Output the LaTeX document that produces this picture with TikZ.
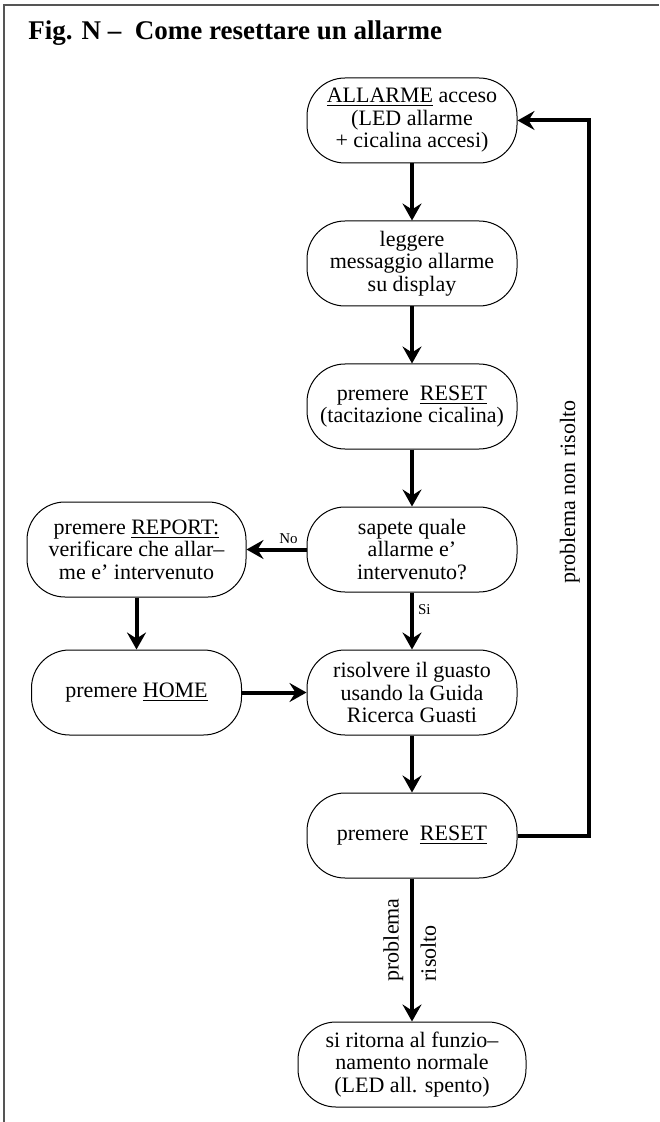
\documentclass[tikz,border=0pt]{standalone}
\usepackage{fontspec}
\setmainfont{Liberation Serif}
\usepackage{tikz}
\usetikzlibrary{arrows.meta, positioning}
\definecolor{framegray}{HTML}{555555}

\begin{document}
\begin{tikzpicture}[
    x=0.5pt, y=0.5pt,
    node distance=28.5pt,
    every node/.style={font=\fontsize{11}{11.25}\selectfont},
    stage/.style={draw, line width=0.5pt, rounded corners=19pt, minimum width=105pt, minimum height=42.5pt, align=center, inner sep=2pt},
    flow/.style={-{Stealth[length=8.5pt, width=9.5pt, inset=3pt]}, line width=2pt},
    tag/.style={font=\fontsize{7.5}{8}\selectfont, inner sep=2pt}
]
    \useasboundingbox (0,0) rectangle (659,-1122);
    \draw[framegray, line width=0.7pt] (4,-1122) -- (4,-5) -- (659,-5);
    \node[anchor=base west, font=\bfseries\fontsize{13.5}{16}\selectfont, inner sep=0pt] (title) at (28,-40) {Fig. N -- \ Come resettare un allarme};

    \node[stage] (alarm) at (412,-120.5) {\underline{ALLARME} acceso\\(LED allarme\\+ cicalina accesi)};
    \node[stage, below=of alarm] (read) {leggere\\messaggio allarme\\su display};
    \node[stage, below=of read] (silence) {premere\ \ \underline{RESET}\\(tacitazione cicalina)};
    \node[stage, below=of silence] (known) {sapete quale\\allarme e’\\intervenuto?};
    \node[stage, below=of known] (fix) {risolvere il guasto\\usando la Guida\\Ricerca Guasti};
    \node[stage, below=of fix] (reset) {premere\ \ \underline{RESET}};
    \node[stage, minimum width=114pt, below=71.5pt of reset] (normal) {si ritorna al funzio--\\namento normale\\(LED all. spento)};

    \node[stage, minimum width=109.5pt, minimum height=47.5pt, left=30pt of known] (report) {premere \underline{REPORT:}\\verificare che allar--\\me e’ intervenuto};
    \node[stage, below=26pt of report] (home) {premere \underline{HOME}};

    \draw[flow] (alarm) -- (read);
    \draw[flow] (read) -- (silence);
    \draw[flow] (silence) -- (known);
    \draw[flow] (known) -- node[tag, above, pos=0.3] {No} (report);
    \draw[flow] (known) -- node[tag, right, pos=0.3] {Si} (fix);
    \draw[flow] (report) -- (home);
    \draw[flow] (home) -- (fix);
    \draw[flow] (fix) -- (reset);
    \draw[flow] (reset) -- node[pos=0.78, rotate=90, anchor=south west] {problema} node[pos=0.78, rotate=90, anchor=north west] {risolto} (normal);
    \draw[flow] (reset.east) -- ++(35.5pt,0) |- node[pos=0.24, sloped, above] {problema non risolto} (alarm.east);
\end{tikzpicture}
\end{document}
